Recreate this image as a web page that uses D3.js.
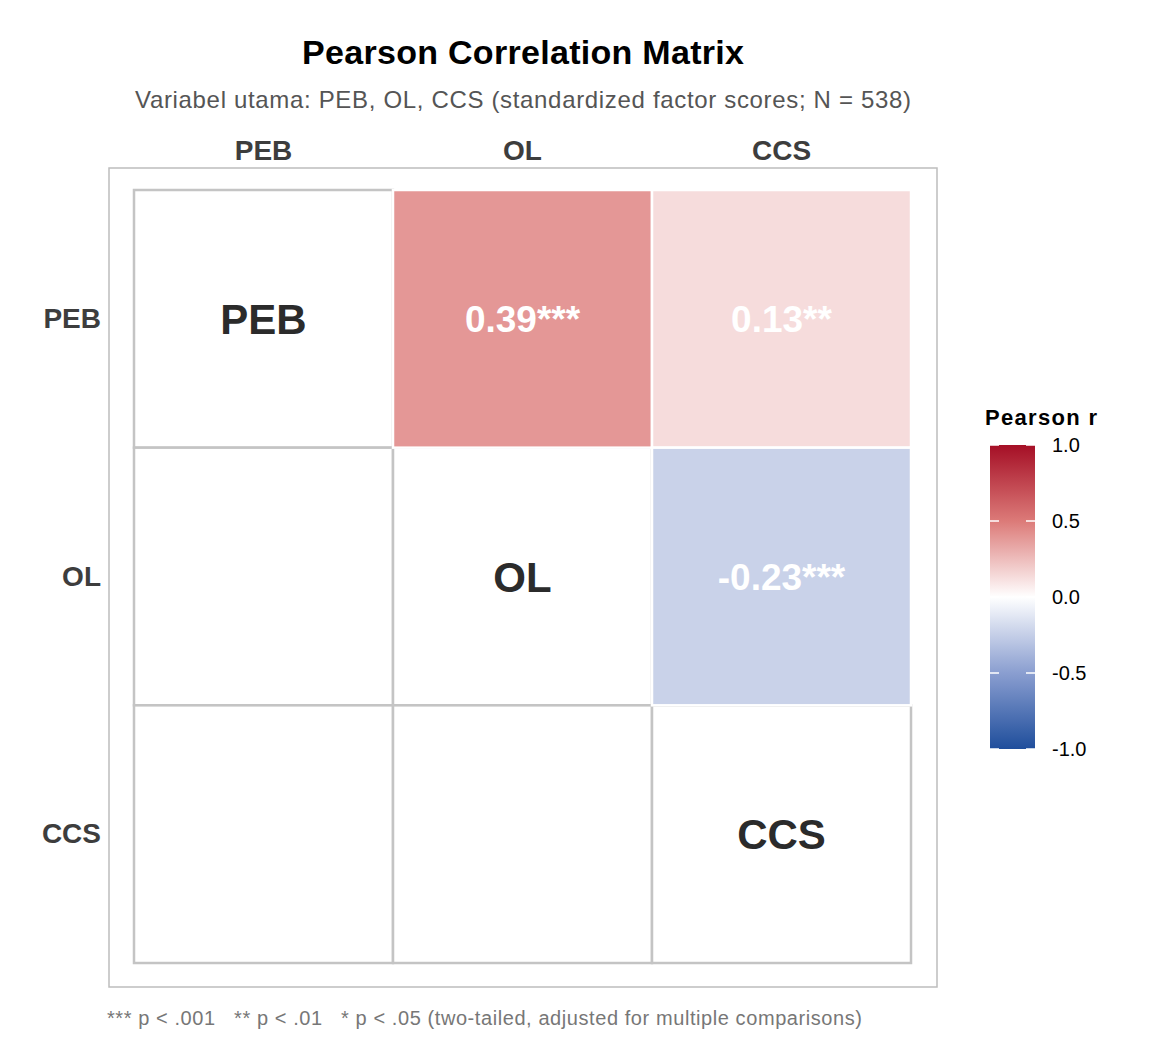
<!DOCTYPE html>
<html><head><meta charset="utf-8">
<script src="https://cdn.jsdelivr.net/npm/d3@7"></script>
<style>body{margin:0;background:#fff}text{font-family:"Liberation Sans",Arial,sans-serif}</style>
</head><body><div id="stage"></div>
<script>
const vars = ["PEB", "OL", "CCS"];
// upper triangle correlations: [row, col, r, stars]
const corrRows = [0, 0, 1];
const corrCols = [1, 2, 2];
const corrValues = [0.39, 0.13, -0.23];
const corrStars = ["***", "**", "***"];
const legendTicks = [1.0, 0.5, 0.0, -0.5, -1.0];

const svg = d3.select("#stage").append("svg").attr("width", 1152).attr("height", 1056);

const x = d3.scaleBand().domain(vars).range([134, 911]);
const y = d3.scaleBand().domain(vars).range([190, 963]);
const color = d3.scaleLinear().domain([-1, -0.5, 0, 0.5, 1])
  .range(["#1f4e9c", "#8a9ed0", "#ffffff", "#dc7a78", "#a50f26"]);

svg.append("text").attr("x", 523).attr("y", 64).attr("text-anchor", "middle")
  .attr("font-size", 34).attr("font-weight", "bold").attr("textLength", 442).text("Pearson Correlation Matrix");
svg.append("text").attr("x", 523).attr("y", 108).attr("text-anchor", "middle")
  .attr("font-size", 24).attr("fill", "#555").attr("textLength", 776)
  .text("Variabel utama: PEB, OL, CCS (standardized factor scores; N = 538)");

svg.append("rect").attr("x", 109).attr("y", 168).attr("width", 828).attr("height", 819)
  .attr("fill", "none").attr("stroke", "#bdbdbd").attr("stroke-width", 1.5);

// white cells (diagonal + lower)
const blanks = [];
vars.forEach((r, i) => vars.forEach((c, j) => { if (j <= i) blanks.push({r, c, diag: i === j}); }));
svg.selectAll(".blank").data(blanks).join("rect")
  .attr("x", d => x(d.c)).attr("y", d => y(d.r))
  .attr("width", x.bandwidth()).attr("height", y.bandwidth())
  .attr("fill", "#fff").attr("stroke", "#c4c4c4").attr("stroke-width", 2.5);

svg.selectAll(".diag").data(blanks.filter(d => d.diag)).join("text")
  .attr("x", d => x(d.c) + x.bandwidth() / 2).attr("y", d => y(d.r) + y.bandwidth() / 2 + 15)
  .attr("text-anchor", "middle").attr("font-size", 42).attr("font-weight", "bold")
  .attr("fill", "#2b2b2b").text(d => d.r);

const cells = corrValues.map((v, i) => ({r: vars[corrRows[i]], c: vars[corrCols[i]], v, s: corrStars[i]}));
svg.selectAll(".cell").data(cells).join("rect")
  .attr("x", d => x(d.c)).attr("y", d => y(d.r))
  .attr("width", x.bandwidth()).attr("height", y.bandwidth())
  .attr("fill", d => color(d.v)).attr("stroke", "#fff").attr("stroke-width", 2.5);
svg.selectAll(".val").data(cells).join("text")
  .attr("x", d => x(d.c) + x.bandwidth() / 2).attr("y", d => y(d.r) + y.bandwidth() / 2 + 13)
  .attr("text-anchor", "middle").attr("font-size", 37).attr("font-weight", "bold")
  .attr("fill", "#fff").text(d => d.v.toFixed(2) + d.s);

// axis labels
svg.selectAll(".xl").data(vars).join("text")
  .attr("x", d => x(d) + x.bandwidth() / 2).attr("y", 160).attr("text-anchor", "middle")
  .attr("font-size", 28).attr("font-weight", "bold").attr("fill", "#3d3d3d").text(d => d);
svg.selectAll(".yl").data(vars).join("text")
  .attr("x", 101).attr("y", d => y(d) + y.bandwidth() / 2 + 9).attr("text-anchor", "end")
  .attr("font-size", 28).attr("font-weight", "bold").attr("fill", "#3d3d3d").text(d => d);

// legend
const ly = d3.scaleLinear().domain([1, -1]).range([445, 749]);
const defs = svg.append("defs");
const grad = defs.append("linearGradient").attr("id", "g").attr("x1", 0).attr("x2", 0).attr("y1", 0).attr("y2", 1);
d3.range(0, 1.0001, 0.05).forEach(t => grad.append("stop").attr("offset", t).attr("stop-color", color(1 - 2 * t)));
svg.append("rect").attr("x", 990).attr("y", 445).attr("width", 45).attr("height", 304).attr("fill", "url(#g)");
svg.append("text").attr("x", 985).attr("y", 425).attr("font-size", 22).attr("font-weight", "bold")
  .attr("textLength", 112).text("Pearson r");
legendTicks.forEach(t => {
  svg.append("line").attr("x1", 990).attr("x2", 999).attr("y1", ly(t)).attr("y2", ly(t)).attr("stroke", "#fff").attr("stroke-width", 1.5);
  svg.append("line").attr("x1", 1026).attr("x2", 1035).attr("y1", ly(t)).attr("y2", ly(t)).attr("stroke", "#fff").attr("stroke-width", 1.5);
  svg.append("text").attr("x", 1052).attr("y", ly(t) + 7).attr("font-size", 20).text(t.toFixed(1));
});

svg.append("text").attr("x", 107).attr("y", 1025).attr("font-size", 20).attr("fill", "#777")
  .attr("xml:space", "preserve").attr("textLength", 755)
  .text("*** p < .001   ** p < .01   * p < .05 (two-tailed, adjusted for multiple comparisons)");
</script></body></html>
